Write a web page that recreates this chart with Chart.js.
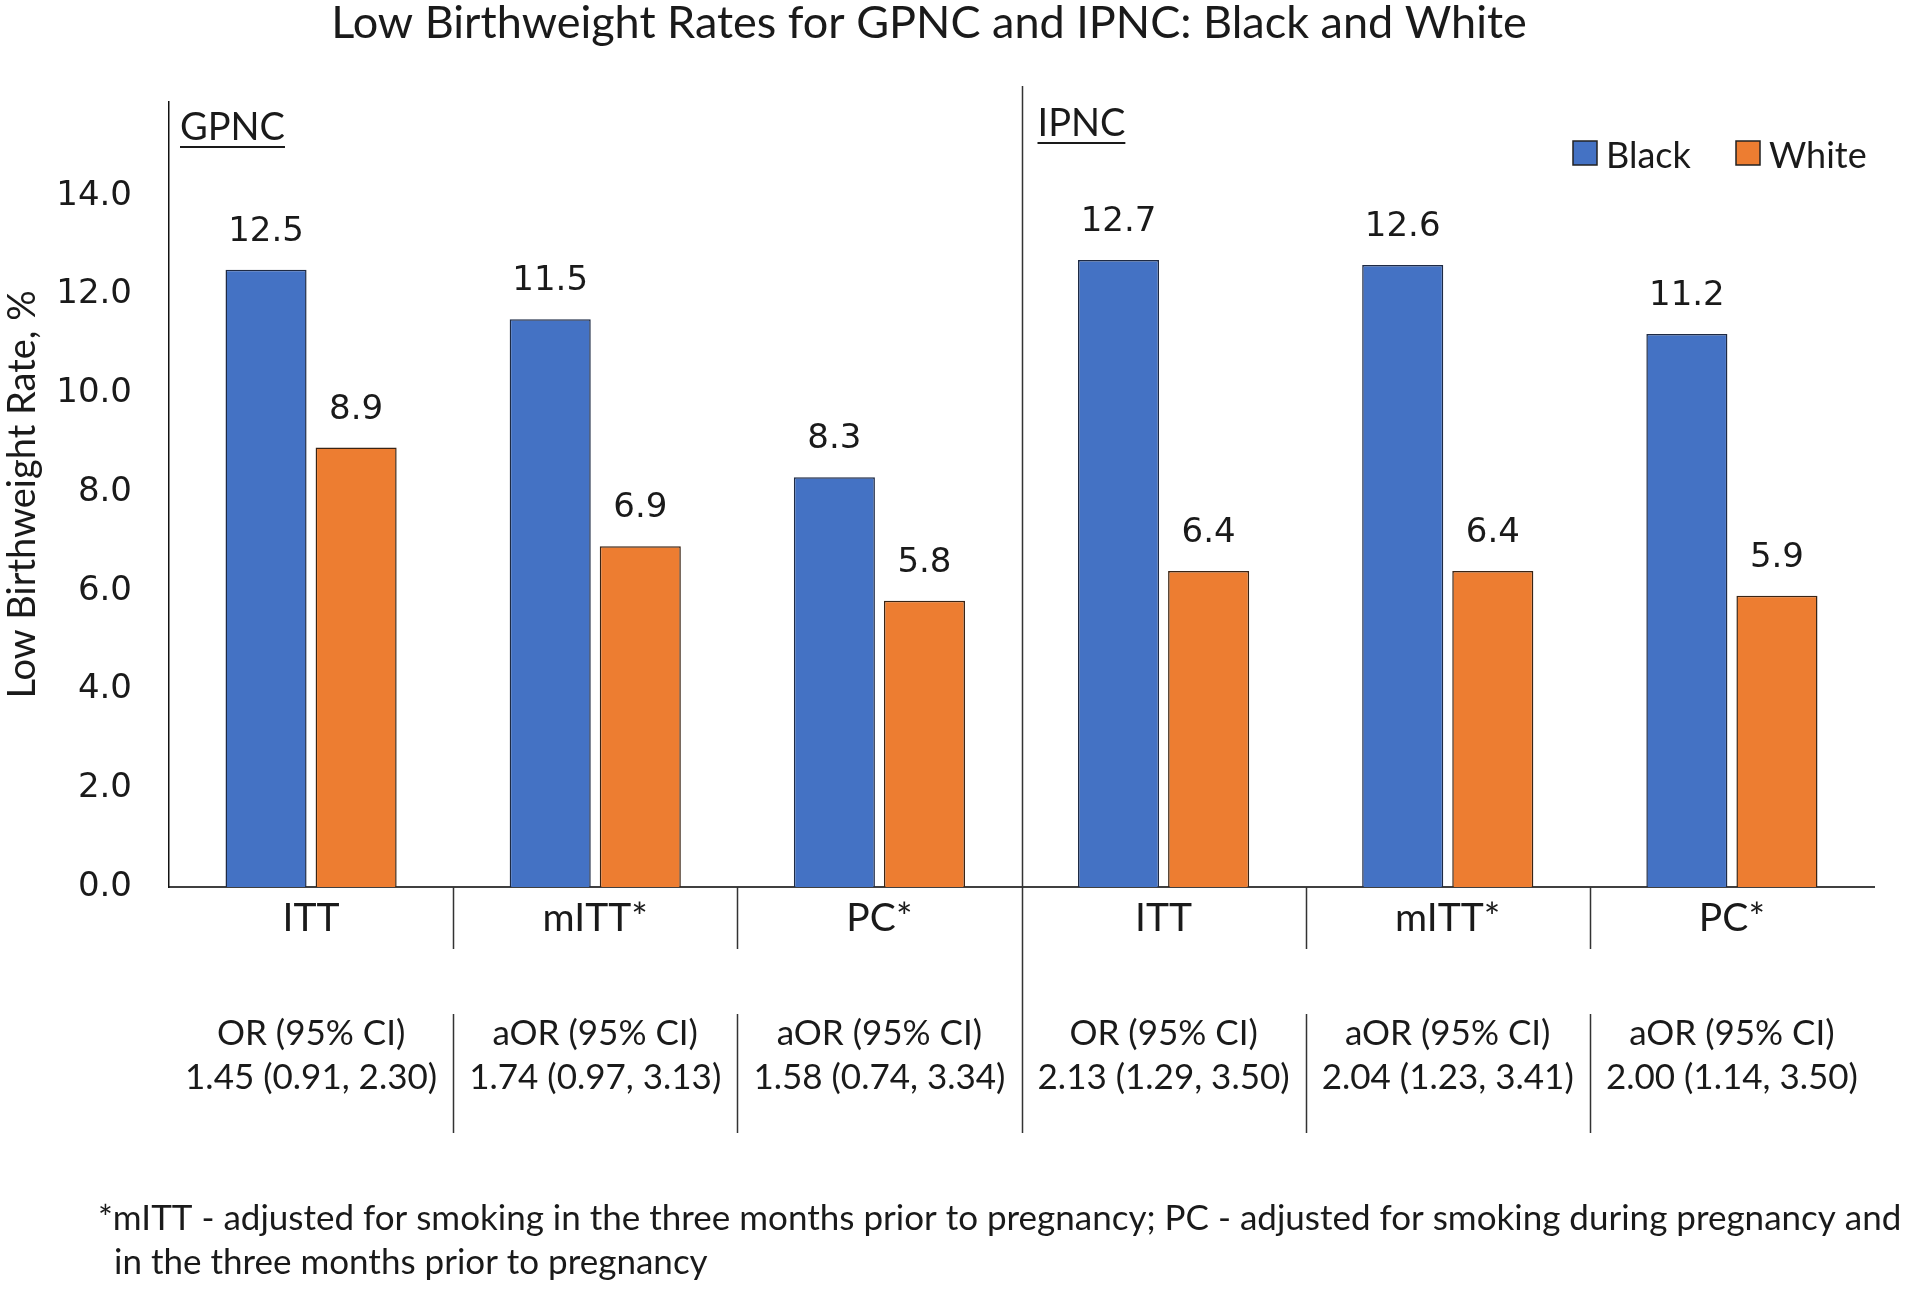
<!DOCTYPE html>
<html>
<head>
<meta charset="utf-8">
<script src="https://cdn.jsdelivr.net/npm/chart.js@4"></script>
<style>
  html, body { margin: 0; padding: 0; background: #fff; }
  #wrap { width: 1920px; height: 1298px; position: relative; }
</style>
</head>
<body>
<div id="wrap"><canvas id="lbw-chart"></canvas></div>
<script>
// data
const categories = ["ITT", "mITT*", "PC*", "ITT", "mITT*", "PC*"];
const blackRates = [12.5, 11.5, 8.3, 12.7, 12.6, 11.2];
const whiteRates = [8.9, 6.9, 5.8, 6.4, 6.4, 5.9];
const orLabels = ["OR (95% CI)", "aOR (95% CI)", "aOR (95% CI)", "OR (95% CI)", "aOR (95% CI)", "aOR (95% CI)"];
const orValues = ["1.45 (0.91, 2.30)", "1.74 (0.97, 3.13)", "1.58 (0.74, 3.34)", "2.13 (1.29, 3.50)", "2.04 (1.23, 3.41)", "2.00 (1.14, 3.50)"];
const yTicks = [0, 2, 4, 6, 8, 10, 12, 14];
const groupNames = ["GPNC", "IPNC"];
const footnote = [
    "*mITT - adjusted for smoking in the three months prior to pregnancy; PC - adjusted for smoking during pregnancy and",
    "in the three months prior to pregnancy"
];

const BLUE = "#4472C4";
const ORANGE = "#ED7D31";
const TEXT = "#1a1a1a";
const LABEL_FONT = "Lato, 'Open Sans', sans-serif";
const NUM_FONT = "'DejaVu Sans', Verdana, sans-serif";

const overlay = {
    id: "overlay",
    afterDraw(chart) {
        const ctx = chart.ctx;
        const x = chart.scales.x;
        const area = chart.chartArea;
        ctx.save();

        // value labels above bars
        ctx.fillStyle = TEXT;
        ctx.font = `34px ${NUM_FONT}`;
        ctx.textAlign = "center";
        ctx.textBaseline = "alphabetic";
        chart.data.datasets.forEach((ds, di) => {
            chart.getDatasetMeta(di).data.forEach((bar, i) => {
                ctx.fillText(ds.data[i].toFixed(1), bar.x, bar.y - 29);
            });
        });

        // category labels and OR rows
        categories.forEach((c, i) => {
            const cx = x.getPixelForValue(i);
            ctx.font = `39px ${LABEL_FONT}`;
            ctx.fillText(c, cx, 931);
            ctx.font = `35px ${LABEL_FONT}`;
            ctx.fillText(orLabels[i], cx, 1045);
            ctx.fillText(orValues[i], cx, 1089);
        });

        // separators
        ctx.strokeStyle = "#333";
        ctx.lineWidth = 1.5;
        for (let i = 1; i < categories.length; i++) {
            const bx = Math.round((x.getPixelForValue(i - 1) + x.getPixelForValue(i)) / 2) + 0.5;
            ctx.beginPath();
            if (i === 3) {
                ctx.moveTo(bx, 86);
                ctx.lineTo(bx, 1133);
            } else {
                ctx.moveTo(bx, area.bottom);
                ctx.lineTo(bx, 949);
                ctx.moveTo(bx, 1014);
                ctx.lineTo(bx, 1133);
            }
            ctx.stroke();
        }

        // panel names, underlined
        ctx.textAlign = "left";
        ctx.font = `38px ${LABEL_FONT}`;
        const gx = [area.left + 11, x.getPixelForValue(2.5) + 16];
        const gy = [140, 136];
        groupNames.forEach((g, i) => {
            ctx.fillText(g, gx[i], gy[i]);
            const w = ctx.measureText(g).width;
            ctx.fillRect(gx[i], gy[i] + 6, w, 2);
        });

        // legend
        ctx.font = `36px ${LABEL_FONT}`;
        const legendX = [1573, 1736];
        chart.data.datasets.forEach((ds, i) => {
            ctx.fillStyle = ds.backgroundColor;
            ctx.fillRect(legendX[i], 141, 24, 24);
            ctx.strokeStyle = "#222";
            ctx.lineWidth = 1.5;
            ctx.strokeRect(legendX[i], 141, 24, 24);
            ctx.fillStyle = TEXT;
            ctx.fillText(ds.label, legendX[i] + 33, 168);
        });

        // title
        ctx.textAlign = "center";
        ctx.font = `45px ${LABEL_FONT}`;
        ctx.fillText("Low Birthweight Rates for GPNC and IPNC: Black and White", 929, 38);

        // footnote
        ctx.textAlign = "left";
        ctx.font = `35px ${LABEL_FONT}`;
        ctx.fillText(footnote[0], 98, 1230);
        ctx.fillText(footnote[1], 114, 1274);

        ctx.restore();
    }
};

new Chart(document.getElementById("lbw-chart"), {
    type: "bar",
    data: {
        labels: categories,
        datasets: [
            {
                label: "Black",
                data: blackRates,
                backgroundColor: BLUE,
                borderColor: "#1e2a44",
                borderWidth: 1.5,
                categoryPercentage: 0.634,
                barPercentage: 0.9
            },
            {
                label: "White",
                data: whiteRates,
                backgroundColor: ORANGE,
                borderColor: "#3a2414",
                borderWidth: 1.5,
                categoryPercentage: 0.634,
                barPercentage: 0.9
            }
        ]
    },
    options: {
        responsive: true,
        maintainAspectRatio: false,
        animation: false,
        layout: { padding: { top: 102, right: 46, bottom: 403, left: 0 } },
        plugins: {
            legend: { display: false },
            tooltip: { enabled: false }
        },
        scales: {
            x: {
                grid: { display: false },
                border: { display: true, color: "#404040", width: 2 },
                ticks: { display: false }
            },
            y: {
                min: 0,
                max: 15.9,
                afterBuildTicks: (axis) => {
                    axis.ticks = yTicks.map((v) => ({ value: v }));
                },
                afterFit: (axis) => { axis.width = 169; },
                grid: { display: false },
                border: { display: true, color: "#111", width: 1.5 },
                ticks: {
                    padding: 29,
                    color: TEXT,
                    font: { family: NUM_FONT, size: 34 },
                    callback: (v) => Number(v).toFixed(1)
                },
                title: {
                    display: true,
                    text: "Low Birthweight Rate, %",
                    color: TEXT,
                    font: { family: LABEL_FONT, size: 38 },
                    padding: { top: 0, bottom: 0 }
                }
            }
        }
    },
    plugins: [overlay]
});
</script>
</body>
</html>
